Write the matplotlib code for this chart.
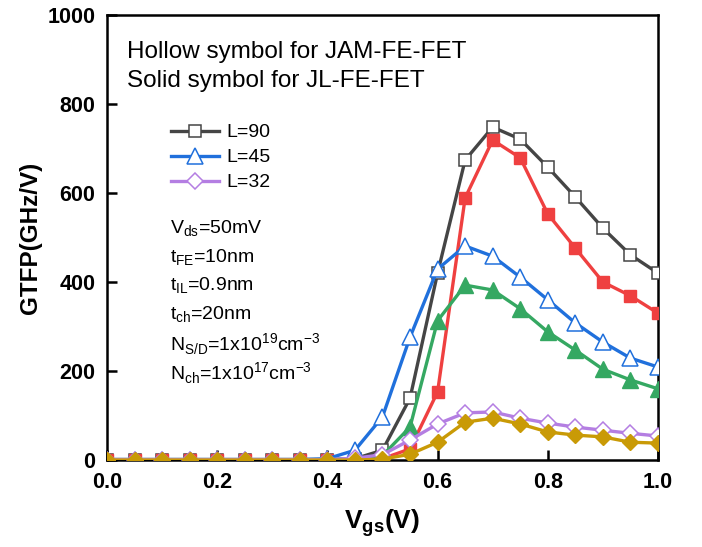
import matplotlib
matplotlib.use("Agg")
import matplotlib.pyplot as plt

plt.rcParams['font.family'] = ['Liberation Sans', 'DejaVu Sans']
plt.rcParams['mathtext.fontset'] = 'custom'
plt.rcParams['mathtext.rm'] = 'Liberation Sans'
plt.rcParams['mathtext.bf'] = 'Liberation Sans:bold'

vgs = [0.0, 0.05, 0.1, 0.15, 0.2, 0.25, 0.3, 0.35, 0.4, 0.45, 0.5,
       0.55, 0.6, 0.65, 0.7, 0.75, 0.8, 0.85, 0.9, 0.95, 1.0]

jam_90 = [1, 1, 1, 1, 1, 1, 1, 1, 1, 3, 22, 139, 420, 674, 748, 721, 658, 591, 521, 461, 420]
jl_90 = [0, 0, 0, 0, 0, 0, 0, 0, 0, 0, 3, 25, 153, 589, 719, 679, 553, 476, 400, 369, 330]
jam_45 = [1, 1, 1, 1, 1, 1, 1, 1, 3, 22, 97, 276, 429, 481, 458, 411, 360, 308, 265, 229, 209]
jl_45 = [1, 1, 1, 1, 1, 1, 1, 1, 1, 2, 10, 74, 313, 393, 382, 340, 288, 247, 204, 180, 160]
jam_32 = [1, 1, 1, 1, 1, 1, 1, 1, 1, 4, 12, 45, 81, 106, 108, 94, 83, 74, 67, 60, 54]
jl_32 = [0, 0, 0, 0, 0, 0, 0, 0, 0, 0, 2, 13, 40, 85, 94, 81, 63, 56, 52, 40, 38]

labels = ['L=90', 'L=45', 'L=32']
c_gray = '#454545'
c_red = '#EF4040'
c_blue = '#2070DC'
c_green = '#35A862'
c_purple = '#B47EE2'
c_gold = '#C99A06'

fig = plt.figure(figsize=(7.02, 5.47), dpi=100)
ax = fig.add_axes([0.1524, 0.159, 0.7849, 0.8136])

lw = 2.4
ms = 9
ax.plot(vgs, jam_90, color=c_gray, lw=lw, marker='s', ms=ms, mfc='white', mec=c_gray, mew=1.1, zorder=3, label=labels[0])
ax.plot(vgs, jl_90, color=c_red, lw=lw, marker='s', ms=ms, mfc=c_red, mec=c_red, zorder=4)
ax.plot(vgs, jam_45, color=c_blue, lw=lw, marker='^', ms=ms + 2, mfc='white', mec=c_blue, mew=1.1, zorder=5, label=labels[1])
ax.plot(vgs, jl_45, color=c_green, lw=lw, marker='^', ms=ms + 2, mfc=c_green, mec=c_green, zorder=5)
ax.plot(vgs, jam_32, color=c_purple, lw=lw, marker='D', ms=ms - 1, mfc='white', mec=c_purple, mew=1.1, zorder=6, label=labels[2])
ax.plot(vgs, jl_32, color=c_gold, lw=lw, marker='D', ms=ms - 1, mfc=c_gold, mec=c_gold, zorder=7)

ax.set_xlim(0, 1.0)
ax.set_ylim(0, 1000)
ax.set_xticks([0.0, 0.2, 0.4, 0.6, 0.8, 1.0])
ax.set_xticklabels(['0.0', '0.2', '0.4', '0.6', '0.8', '1.0'])
ax.set_yticks([0, 200, 400, 600, 800, 1000])
ax.tick_params(axis='both', direction='in', length=7, width=1.8, labelsize=15.5, pad=8.5,
               top=False, right=False)
for lab in ax.get_xticklabels() + ax.get_yticklabels():
    lab.set_fontweight('bold')
for sp in ax.spines.values():
    sp.set_linewidth(1.8)

ax.set_ylabel('GTFP(GHz/V)', fontsize=17.5, fontweight='bold', labelpad=4)
ax.set_xlabel(r'V$_{\mathbf{gs}}$(V)', fontsize=19, fontweight='bold', labelpad=10)

ax.text(0.036, 0.903, 'Hollow symbol for JAM-FE-FET', transform=ax.transAxes, fontsize=17.5, va='baseline')
ax.text(0.036, 0.838, 'Solid symbol for JL-FE-FET', transform=ax.transAxes, fontsize=17.5, va='baseline')

leg = ax.legend(loc='upper left', bbox_to_anchor=(0.1024, 0.773), frameon=False, fontsize=14,
                handlelength=2.47, handletextpad=0.36, labelspacing=0.38, borderaxespad=0)

params = [r'V$_{\mathregular{ds}}$=50mV',
          r't$_{\mathregular{FE}}$=10nm',
          r't$_{\mathregular{IL}}$=0.9nm',
          r't$_{\mathregular{ch}}$=20nm',
          r'N$_{\mathregular{S/D}}$=1x10$^{\mathregular{19}}$cm$^{\mathregular{-3}}$',
          r'N$_{\mathregular{ch}}$=1x10$^{\mathregular{17}}$cm$^{\mathregular{-3}}$']
y0 = 0.52
for i, p in enumerate(params):
    ax.text(0.114, y0 - i * 0.0648, p, transform=ax.transAxes, fontsize=14, va='center')

fig.savefig('out.png', dpi=100)
